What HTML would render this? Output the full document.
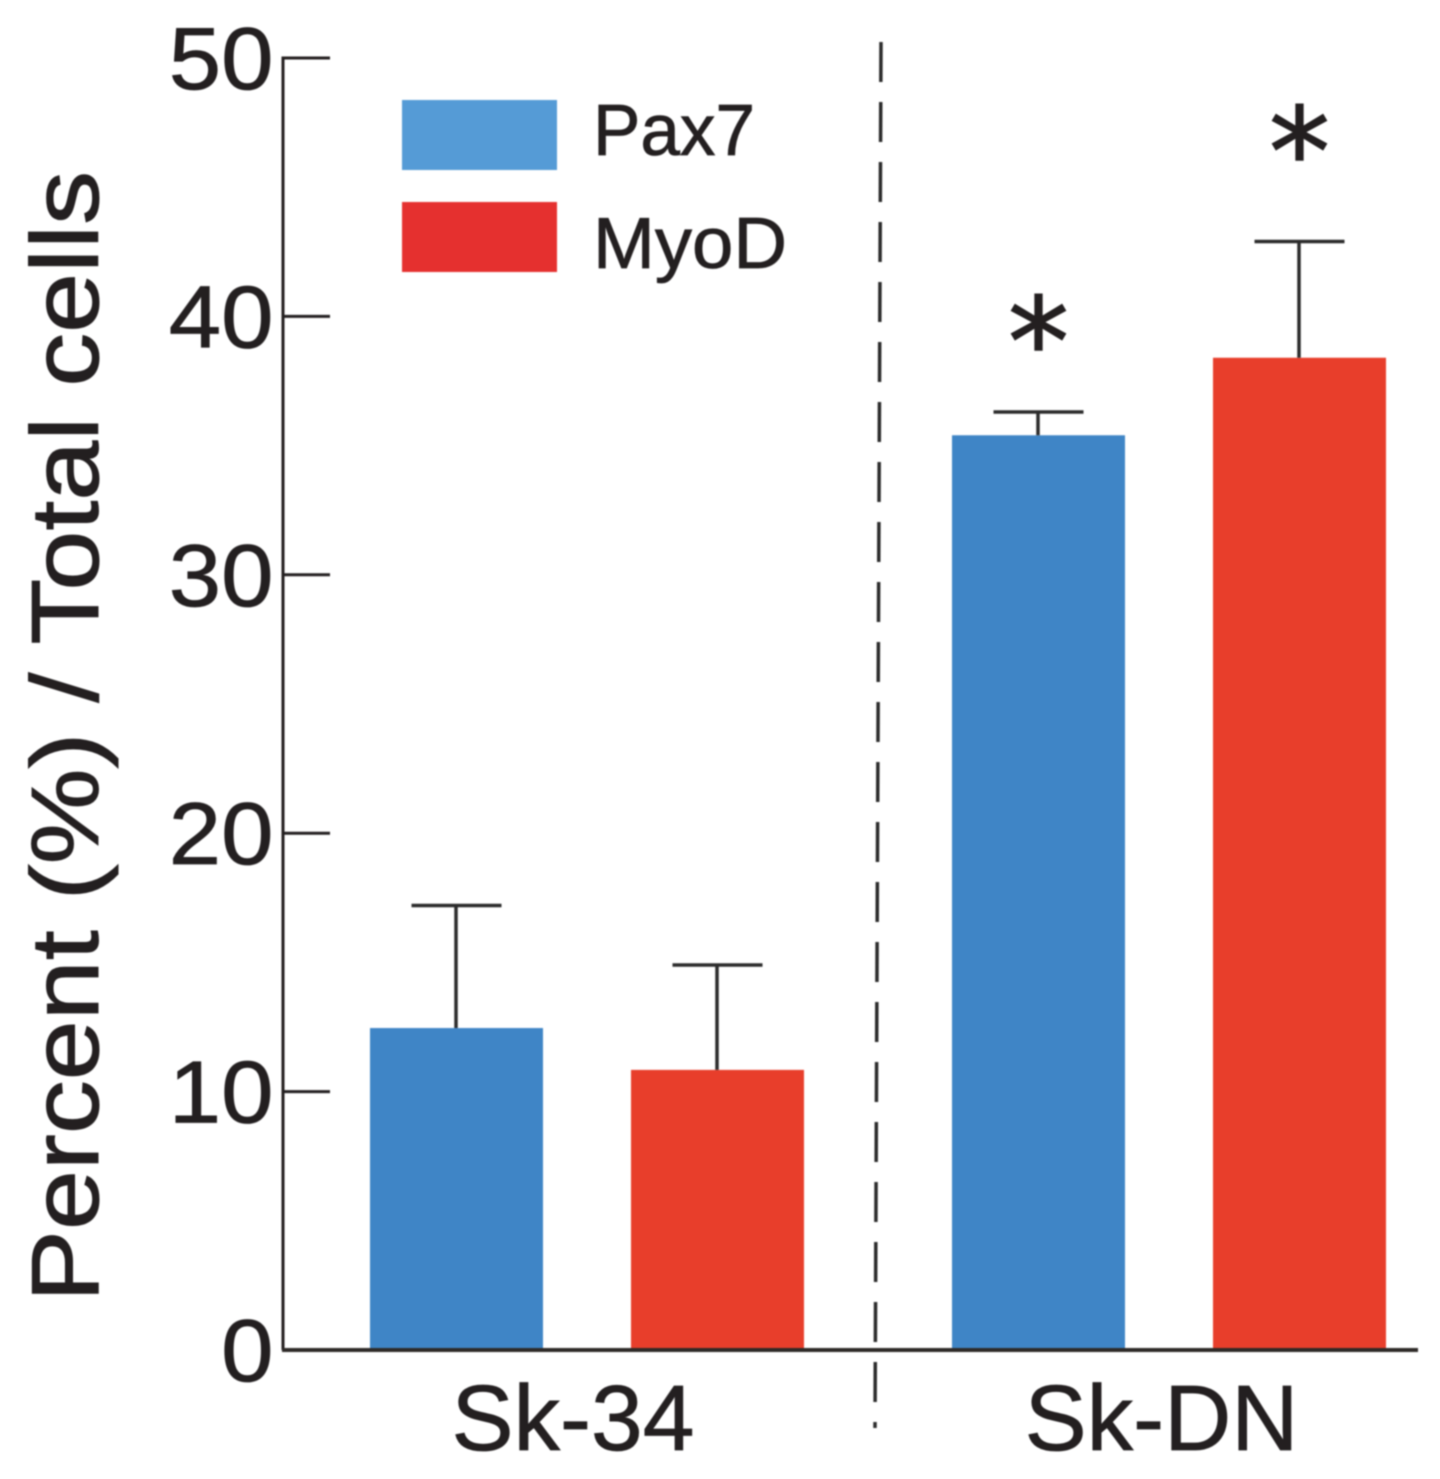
<!DOCTYPE html>
<html lang="en">
<head>
<meta charset="utf-8">
<title>Percent of Pax7 and MyoD cells</title>
<style>
html,body{margin:0;padding:0;background:#fff;width:1440px;height:1479px;overflow:hidden}
svg{display:block;filter:blur(0.7px)}
text{font-family:"Liberation Sans",Arial,sans-serif;fill:#231f20}
</style>
</head>
<body>
<svg id="chart" width="1440" height="1479" viewBox="0 0 1440 1479" xmlns="http://www.w3.org/2000/svg">
  <rect x="0" y="0" width="1440" height="1479" fill="#fff"/>
  <text transform="translate(98,1302) rotate(-90)" font-size="96" textLength="1131" lengthAdjust="spacingAndGlyphs" stroke="#231f20" stroke-width="1">Percent (%) / Total cells</text>
  <line x1="881" y1="42" x2="875" y2="1428" stroke="#2b2b2b" stroke-width="3.5" stroke-dasharray="40 20"/>
  <rect x="402" y="100" width="155" height="70" fill="#559bd6"/>
  <text x="593" y="155" font-size="72" textLength="162" lengthAdjust="spacingAndGlyphs" stroke="#231f20" stroke-width="0.8">Pax7</text>
  <rect x="402" y="202" width="155" height="70" fill="#e5302f"/>
  <text x="593" y="268" font-size="72" textLength="194" lengthAdjust="spacingAndGlyphs" stroke="#231f20" stroke-width="0.8">MyoD</text>
  <g id="marks"></g>
  <g id="axes"></g>
</svg>
<script>
const groupLabels = ['Sk-34', 'Sk-DN'];
const seriesNames = ['Pax7', 'MyoD'];
const pax7Values = [12.46, 35.4];
const myodValues = [10.84, 38.4];
const pax7ErrorTops = [17.2, 36.3];
const myodErrorTops = [14.9, 42.9];
const pax7Stars = [null, 37.35];
const myodStars = [null, 44.7];
const yTickValues = [0, 10, 20, 30, 40, 50];

const NS = 'http://www.w3.org/2000/svg';
const marks = document.getElementById('marks');
const axes = document.getElementById('axes');

function yScale(v) { return 1350 - (v / 50) * 1292; }
function barLeft(groupIndex, seriesIndex) { return 370 + groupIndex * 582 + seriesIndex * 261; }
const barWidth = 173;

function make(parent, tag, attrs) {
  const el = document.createElementNS(NS, tag);
  for (const k in attrs) el.setAttribute(k, attrs[k]);
  parent.appendChild(el);
  return el;
}

function drawSeries(values, errorTops, stars, seriesIndex, color, key) {
  values.forEach(function (v, g) {
    const x = barLeft(g, seriesIndex);
    const cx = x + barWidth / 2;
    const top = yScale(v);
    const bar = make(marks, 'rect', { x: x, y: top, width: barWidth, height: yScale(0) - top, fill: color });
    
    

    const errY = yScale(errorTops[g]);
    const stem = make(marks, 'line', { x1: cx - 0.5, x2: cx - 0.5, y1: top, y2: errY, stroke: '#2b2b2b', 'stroke-width': 3.5 });
    
    
    const cap = make(marks, 'line', { x1: cx - 45, x2: cx + 45, y1: errY, y2: errY, stroke: '#2b2b2b', 'stroke-width': 3.5 });
    
    

    if (stars[g] !== null) {
      const star = make(marks, 'text', { x: cx, y: yScale(stars[g]), 'text-anchor': 'middle', 'font-size': 122, stroke: '#231f20', 'stroke-width': 1.5, style: 'font-family:"DejaVu Sans",sans-serif' });
      star.textContent = '*';
      
      
    }
  });
}

drawSeries(pax7Values, pax7ErrorTops, pax7Stars, 0, '#3f85c6', 'pax7');
drawSeries(myodValues, myodErrorTops, myodStars, 1, '#e83e2b', 'myod');

const yAxisLine = make(axes, 'line', { x1: 283, x2: 283, y1: yScale(50) - 1.5, y2: yScale(0), stroke: '#231f20', 'stroke-width': 3 });



const xAxisLine = make(axes, 'line', { x1: 282, x2: 1418, y1: yScale(0), y2: yScale(0), stroke: '#2e2a28', 'stroke-width': 4 });



yTickValues.forEach(function (t) {
  const y = yScale(t);
  if (t !== 0) {
    const tick = make(axes, 'line', { x1: 283, x2: 330, y1: y, y2: y, stroke: '#231f20', 'stroke-width': 3 });
    
    
  }
  const label = make(axes, 'text', { transform: 'translate(273.5,' + (y + 31) + ') scale(1.07,1)', 'text-anchor': 'end', 'font-size': 88, stroke: '#231f20', 'stroke-width': 0.8 });
  label.textContent = String(t);
  
  
});

groupLabels.forEach(function (name, g) {
  const cx = (barLeft(g, 0) + barLeft(g, 1) + barWidth) / 2;
  const label = make(axes, 'text', { x: cx - 14 + g * 6.5, y: 1450, 'text-anchor': 'middle', 'font-size': 93, stroke: '#231f20', 'stroke-width': 0.8 });
  label.textContent = name;
  
  
});
</script>
</body>
</html>
